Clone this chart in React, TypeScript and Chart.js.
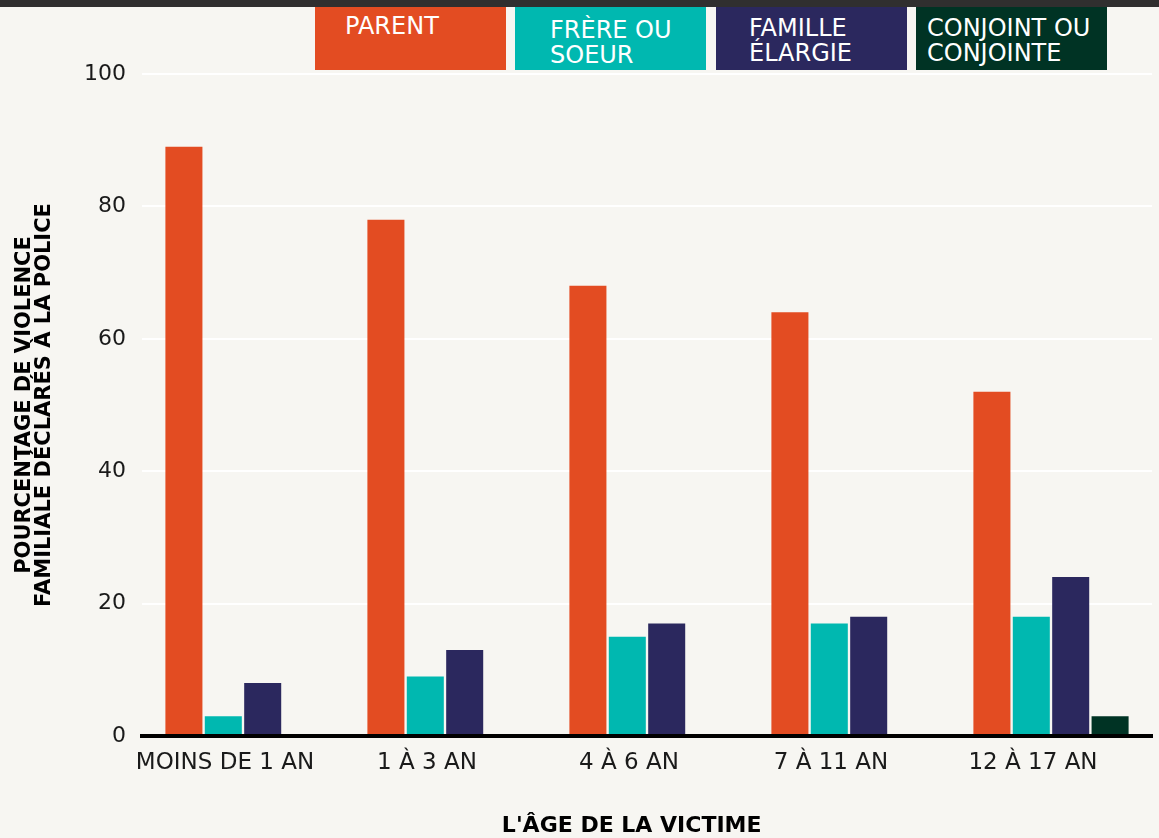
import React, { useEffect, useRef } from "react";
import { Chart, registerables } from "chart.js";

Chart.register(...registerables);

const categories = ["MOINS DE 1 AN", "1 À 3 AN", "4 À 6 AN", "7 À 11 AN", "12 À 17 AN"];
const parentValues = [89, 78, 68, 64, 52];
const siblingValues = [3, 9, 15, 17, 18];
const extendedValues = [8, 13, 17, 18, 24];
const spouseValues = [0, 0, 0, 0, 3];
const seriesLabels = [["PARENT"], ["FRÈRE OU", "SOEUR"], ["FAMILLE", "ÉLARGIE"], ["CONJOINT OU", "CONJOINTE"]];
const seriesColors = ["#e34c22", "#00b8b0", "#2b285e", "#003324"];
const yTitle = ["POURCENTAGE DE VIOLENCE", "FAMILIALE DÉCLARÉS À LA POLICE"];
const xTitle = "L'ÂGE DE LA VICTIME";

const FONT = "'DejaVu Sans', sans-serif";

const legendBoxes = [
  { left: 315, padLeft: 30, top: 14 },
  { left: 515, padLeft: 35, top: 18 },
  { left: 716, padLeft: 33, top: 16 },
  { left: 916, padLeft: 11, top: 16 },
];

export default function App() {
  const ref = useRef<HTMLCanvasElement | null>(null);

  useEffect(() => {
    document.body.style.margin = "0";
    const ctx = ref.current!;
    const values = [parentValues, siblingValues, extendedValues, spouseValues];
    const chart = new Chart(ctx, {
      type: "bar",
      data: {
        labels: categories,
        datasets: values.map((v, i) => ({
          label: seriesLabels[i].join(" "),
          data: v,
          backgroundColor: seriesColors[i],
          borderWidth: 0,
          categoryPercentage: 0.78,
          barPercentage: 0.94,
        })),
      },
      options: {
        animation: false,
        responsive: true,
        maintainAspectRatio: false,
        layout: { padding: { top: 74, right: 7, left: 0, bottom: 1 } },
        plugins: { legend: { display: false }, tooltip: { enabled: false } },
        scales: {
          x: {
            grid: { display: false, drawTicks: false },
            border: { display: true, color: "#000", width: 4, z: 1 },
            ticks: { color: "#1a1a1a", font: { family: FONT, size: 23 }, padding: 13, maxRotation: 0, labelOffset: -18 },
            title: {
              display: true,
              text: xTitle + "\u00a0\u00a0\u00a0\u00a0",
              color: "#000",
              font: { family: FONT, size: 22, weight: "bold", lineHeight: 1 },
              padding: { top: 0, bottom: 0 },
            },
            afterFit: (s: any) => { s.height = 101; },
          },
          y: {
            min: 0,
            max: 100,
            ticks: { stepSize: 20, color: "#1a1a1a", font: { family: FONT, size: 22 }, padding: 16 },
            grid: { color: "#ffffff", lineWidth: 2, drawTicks: false },
            border: { display: false },
            title: {
              display: true,
              text: yTitle,
              color: "#000",
              font: { family: FONT, size: 21, weight: "bold", lineHeight: 0.96 },
              padding: { top: 14, bottom: 0 },
            },
            afterFit: (s: any) => { s.width = 142; },
          },
        },
      },
    });
    return () => chart.destroy();
  }, []);

  return (
    <div style={{ position: "fixed", left: 0, top: 0, width: 1159, height: 838, background: "#f7f6f2", overflow: "hidden" }}>
      <div style={{ position: "absolute", left: 0, top: 0, width: 1159, height: 7, background: "#302f2f" }} />
      {legendBoxes.map((b, i) => (
        <div
          key={i}
          style={{
            position: "absolute",
            left: b.left,
            top: 7,
            width: 191,
            height: 63,
            background: seriesColors[i],
            color: "#fff",
            fontFamily: FONT,
            fontSize: 24,
            lineHeight: "25px",
            boxSizing: "border-box",
            paddingLeft: b.padLeft,
            paddingTop: b.top - 7,
            whiteSpace: "nowrap",
            overflow: "hidden",
          }}
        >
          {seriesLabels[i].map((l, j) => (
            <div key={j}>{l}</div>
          ))}
        </div>
      ))}
      <div style={{ position: "absolute", left: 0, top: 0, width: 1159, height: 838 }}>
        <canvas ref={ref} />
      </div>
    </div>
  );
}
